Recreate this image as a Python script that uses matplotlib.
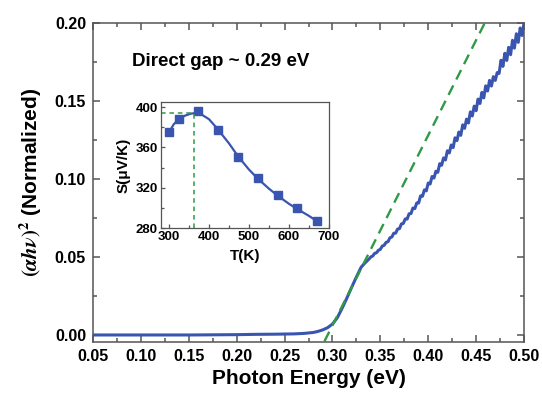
import numpy as np
import matplotlib
matplotlib.use('Agg')
import matplotlib.pyplot as plt
from matplotlib.ticker import MultipleLocator

plt.rcParams['font.family'] = ['Liberation Sans', 'DejaVu Sans']
plt.rcParams['font.weight'] = 'bold'
plt.rcParams['mathtext.fontset'] = 'stix'

#=============================== data
# main panel: photon energy (eV) vs (alpha h nu)^2, normalized
energy = [0.05, 0.10, 0.15, 0.20, 0.22, 0.24, 0.26, 0.27, 0.28, 0.285,
          0.29, 0.295, 0.300, 0.305, 0.310, 0.315, 0.320, 0.325, 0.330,
          0.334, 0.338,
          0.340, 0.342, 0.344, 0.346, 0.348, 0.350, 0.352, 0.354, 0.356, 0.358,
          0.360, 0.362, 0.364, 0.366, 0.368, 0.370, 0.372, 0.374, 0.376, 0.378,
          0.380, 0.382, 0.384, 0.386, 0.388, 0.390, 0.392, 0.394, 0.396, 0.398,
          0.400, 0.402, 0.404, 0.406, 0.408, 0.410, 0.412, 0.414, 0.416, 0.418,
          0.420, 0.422, 0.424, 0.426, 0.428, 0.430, 0.432, 0.434, 0.436, 0.438,
          0.440, 0.442, 0.444, 0.446, 0.448, 0.450, 0.452, 0.454, 0.456, 0.458,
          0.460, 0.462, 0.464, 0.466, 0.468, 0.470, 0.472, 0.474, 0.476, 0.478,
          0.480, 0.482, 0.484, 0.486, 0.488, 0.490, 0.492, 0.494, 0.496, 0.498,
          0.500]
absorb = [0.0, 0.0, 0.0, 0.0002, 0.0004, 0.0005, 0.0007, 0.0010, 0.0016, 0.0023,
          0.0033, 0.0047, 0.0070, 0.0110, 0.0170, 0.0236, 0.0305, 0.0372, 0.0435,
          0.0462, 0.0486,
          0.0500, 0.0506, 0.0523, 0.0527, 0.0543, 0.0549, 0.0570, 0.0575, 0.0594, 0.0598,
          0.0623, 0.0628, 0.0652, 0.0653, 0.0679, 0.0682, 0.0712, 0.0715, 0.0744, 0.0743,
          0.0777, 0.0778, 0.0814, 0.0810, 0.0846, 0.0846, 0.0892, 0.0889, 0.0930, 0.0924,
          0.0974, 0.0968, 0.1016, 0.1006, 0.1050, 0.1043, 0.1098, 0.1088, 0.1135, 0.1122,
          0.1181, 0.1167, 0.1218, 0.1201, 0.1264, 0.1246, 0.1301, 0.1280, 0.1347, 0.1325,
          0.1384, 0.1359, 0.1430, 0.1404, 0.1467, 0.1438, 0.1512, 0.1484, 0.1555, 0.1520,
          0.1597, 0.1564, 0.1632, 0.1596, 0.1656, 0.1632, 0.1682, 0.1677, 0.1761, 0.1722,
          0.1806, 0.1760, 0.1844, 0.1797, 0.1889, 0.1839, 0.1931, 0.1876, 0.1968, 0.1920,
          0.2000]

# linear extrapolation of the band edge
fit_x = [0.2917, 0.459]
fit_y = [-0.004, 0.200]

# inset: Seebeck coefficient vs temperature
temp = [300, 325, 372, 423, 473, 522, 572, 620, 669]
seebeck = [375, 388, 396, 377, 350, 330, 313, 300, 287]
curve_t = [300, 312, 325, 340, 355, 365, 380, 400, 420, 450, 473, 500, 522,
           550, 572, 600, 620, 650, 669]
curve_s = [375, 383, 388, 391.5, 393.5, 394, 393, 388, 379, 364, 351, 338, 329,
           319, 312, 304, 299, 292, 287]
peak_t = 362
peak_s = 394

blue = '#3a55b0'
green = '#2f9a45'
spine = '#555555'

#===============================
def style_axes(ax, lw, size):
  for s in ax.spines.values():
    s.set_color(spine)
    s.set_linewidth(lw)
  ax.tick_params(which='both', direction='in', color=spine, width=lw,
                 labelsize=size)


def DrawFig():
  fig = plt.figure(figsize=(5.42, 3.94), dpi=100)
  ax = fig.add_axes([0.1716, 0.132, 0.7952, 0.8096])
  ax.plot(energy, absorb, color=blue, lw=2.2)
  ax.plot(fit_x, fit_y, color=green, lw=1.7, linestyle=(0, (4.5, 2.8)))
  ax.set_xlim(0.05, 0.50)
  ax.set_ylim(-0.0045, 0.20)
  ax.xaxis.set_major_locator(MultipleLocator(0.05))
  ax.xaxis.set_minor_locator(MultipleLocator(0.025))
  ax.yaxis.set_major_locator(MultipleLocator(0.05))
  ax.yaxis.set_minor_locator(MultipleLocator(0.025))
  ax.xaxis.set_major_formatter(plt.FormatStrFormatter('%.2f'))
  ax.yaxis.set_major_formatter(plt.FormatStrFormatter('%.2f'))
  style_axes(ax, 1.1, 11.5)
  ax.tick_params(which='major', length=5, pad=5)
  ax.tick_params(which='minor', length=3)
  ax.tick_params(which='both', top=True, right=True)
  ax.set_xlabel('Photon Energy (eV)', fontsize=15, fontweight='bold', labelpad=4)
  ax.set_ylabel(r'$(\alpha h\nu)^2$ (Normalized)', fontsize=15,
                fontweight='bold', labelpad=8)
  ax.text(0.0907, 0.1756, 'Direct gap ~ 0.29 eV', fontsize=13.5,
          fontweight='bold', va='center', ha='left')

  ins = fig.add_axes([0.297, 0.4213, 0.310, 0.3197])
  ins.plot(curve_t, curve_s, color=blue, lw=1.6)
  ins.plot(temp, seebeck, 's', color=blue, ms=5.5)
  ins.plot([280, peak_t], [peak_s, peak_s], color=green, lw=1.1,
           linestyle=(0, (3, 2.5)))
  ins.plot([peak_t, peak_t], [280, peak_s], color=green, lw=1.1,
           linestyle=(0, (3, 2.5)))
  ins.set_xlim(280, 700)
  ins.set_ylim(280, 405)
  ins.xaxis.set_major_locator(MultipleLocator(100))
  ins.xaxis.set_minor_locator(MultipleLocator(50))
  ins.yaxis.set_major_locator(MultipleLocator(40))
  ins.yaxis.set_minor_locator(MultipleLocator(20))
  style_axes(ins, 0.9, 9.5)
  ins.tick_params(which='major', length=3, pad=2.5)
  ins.tick_params(which='minor', length=2)
  ins.set_xlabel('T(K)', fontsize=11, fontweight='bold', labelpad=4)
  ins.set_ylabel('S(μV/K)', fontsize=11, fontweight='bold', labelpad=3)

  plt.savefig('out.png', dpi=100)
  return

#==================================
def main():
  DrawFig()
  return

if __name__ == '__main__':
  main()
